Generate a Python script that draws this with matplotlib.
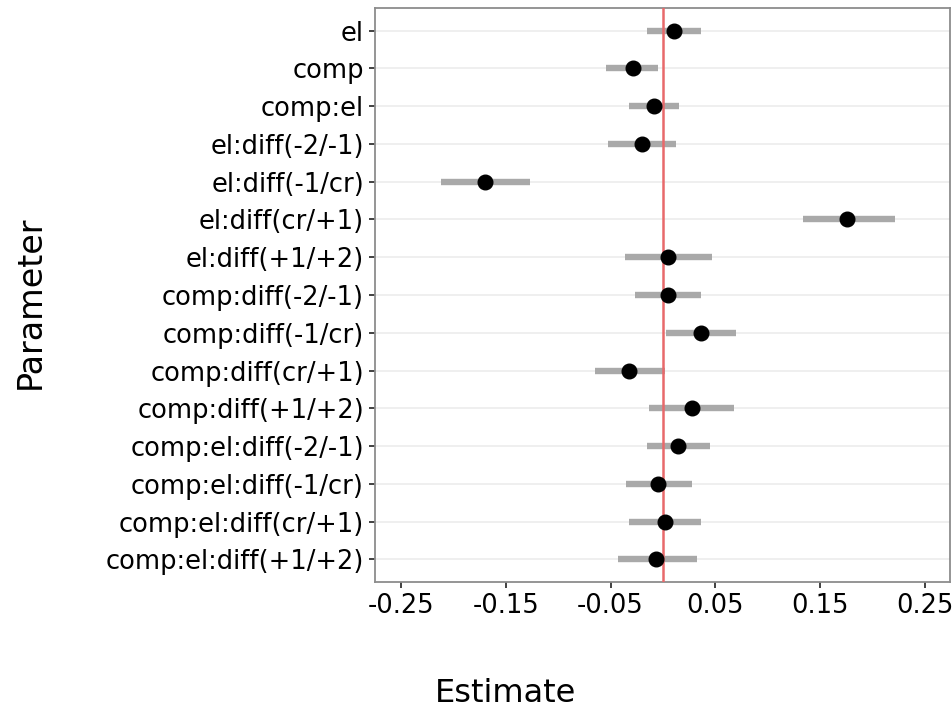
import matplotlib
matplotlib.use("Agg")
import matplotlib.pyplot as plt
import numpy as np

params = ["el", "comp", "comp:el", "el:diff(-2/-1)", "el:diff(-1/cr)", "el:diff(cr/+1)",
          "el:diff(+1/+2)", "comp:diff(-2/-1)", "comp:diff(-1/cr)", "comp:diff(cr/+1)",
          "comp:diff(+1/+2)", "comp:el:diff(-2/-1)", "comp:el:diff(-1/cr)",
          "comp:el:diff(cr/+1)", "comp:el:diff(+1/+2)"]
estimate = [0.010, -0.029, -0.009, -0.020, -0.170, 0.1755, 0.0045, 0.0043, 0.0365,
            -0.032, 0.0275, 0.0147, -0.0046, 0.002, -0.007]
lower = [-0.015, -0.054, -0.032, -0.052, -0.212, 0.133, -0.036, -0.027, 0.0025,
         -0.065, -0.013, -0.015, -0.035, -0.032, -0.043]
upper = [0.036, -0.005, 0.015, 0.012, -0.127, 0.221, 0.047, 0.036, 0.070,
         0.0017, 0.068, 0.0445, 0.0275, 0.036, 0.032]
xticks = [-0.25, -0.15, -0.05, 0.05, 0.15, 0.25]
xticklabels = ["-0.25", "-0.15", "-0.05", "0.05", "0.15", "0.25"]

W, H = 952, 711
fig = plt.figure(figsize=(W / 100, H / 100), dpi=100)
ax = fig.add_axes([375 / W, 1 - 582 / H, (950 - 375) / W, (582 - 8) / H])

y = np.arange(len(params))
ax.set_axisbelow(True)
ax.grid(axis="y", color="#ebebeb", linewidth=1.1)
ax.grid(axis="x", visible=False)
ax.hlines(y, lower, upper, color="#a9a9a9", linewidth=4.6, zorder=2)
ax.axvline(0, color="#e8696b", linewidth=1.8, zorder=3)
ax.plot(estimate, y, "o", color="black", markersize=10.5, zorder=4)

ax.set_ylim(len(params) - 1 + 0.6, -0.6)
ax.set_xlim(-0.2746, 0.2736)
ax.set_yticks(y)
ax.set_yticklabels(params, fontsize=18.5)
ax.set_xticks(xticks)
ax.set_xticklabels(xticklabels, fontsize=18.5)
ax.tick_params(axis="both", length=4, width=1.3, color="#333333", pad=4, labelcolor="black")

for s in ax.spines.values():
    s.set_color("#8c8c8c")
    s.set_linewidth(1.3)

fig.text(506 / W, 1 - 694 / H, "Estimate", fontsize=23, ha="center", va="center")
fig.text(30 / W, 1 - 302 / H, "Parameter", fontsize=24, ha="center", va="center", rotation=90)

fig.savefig("out.png", dpi=100)
